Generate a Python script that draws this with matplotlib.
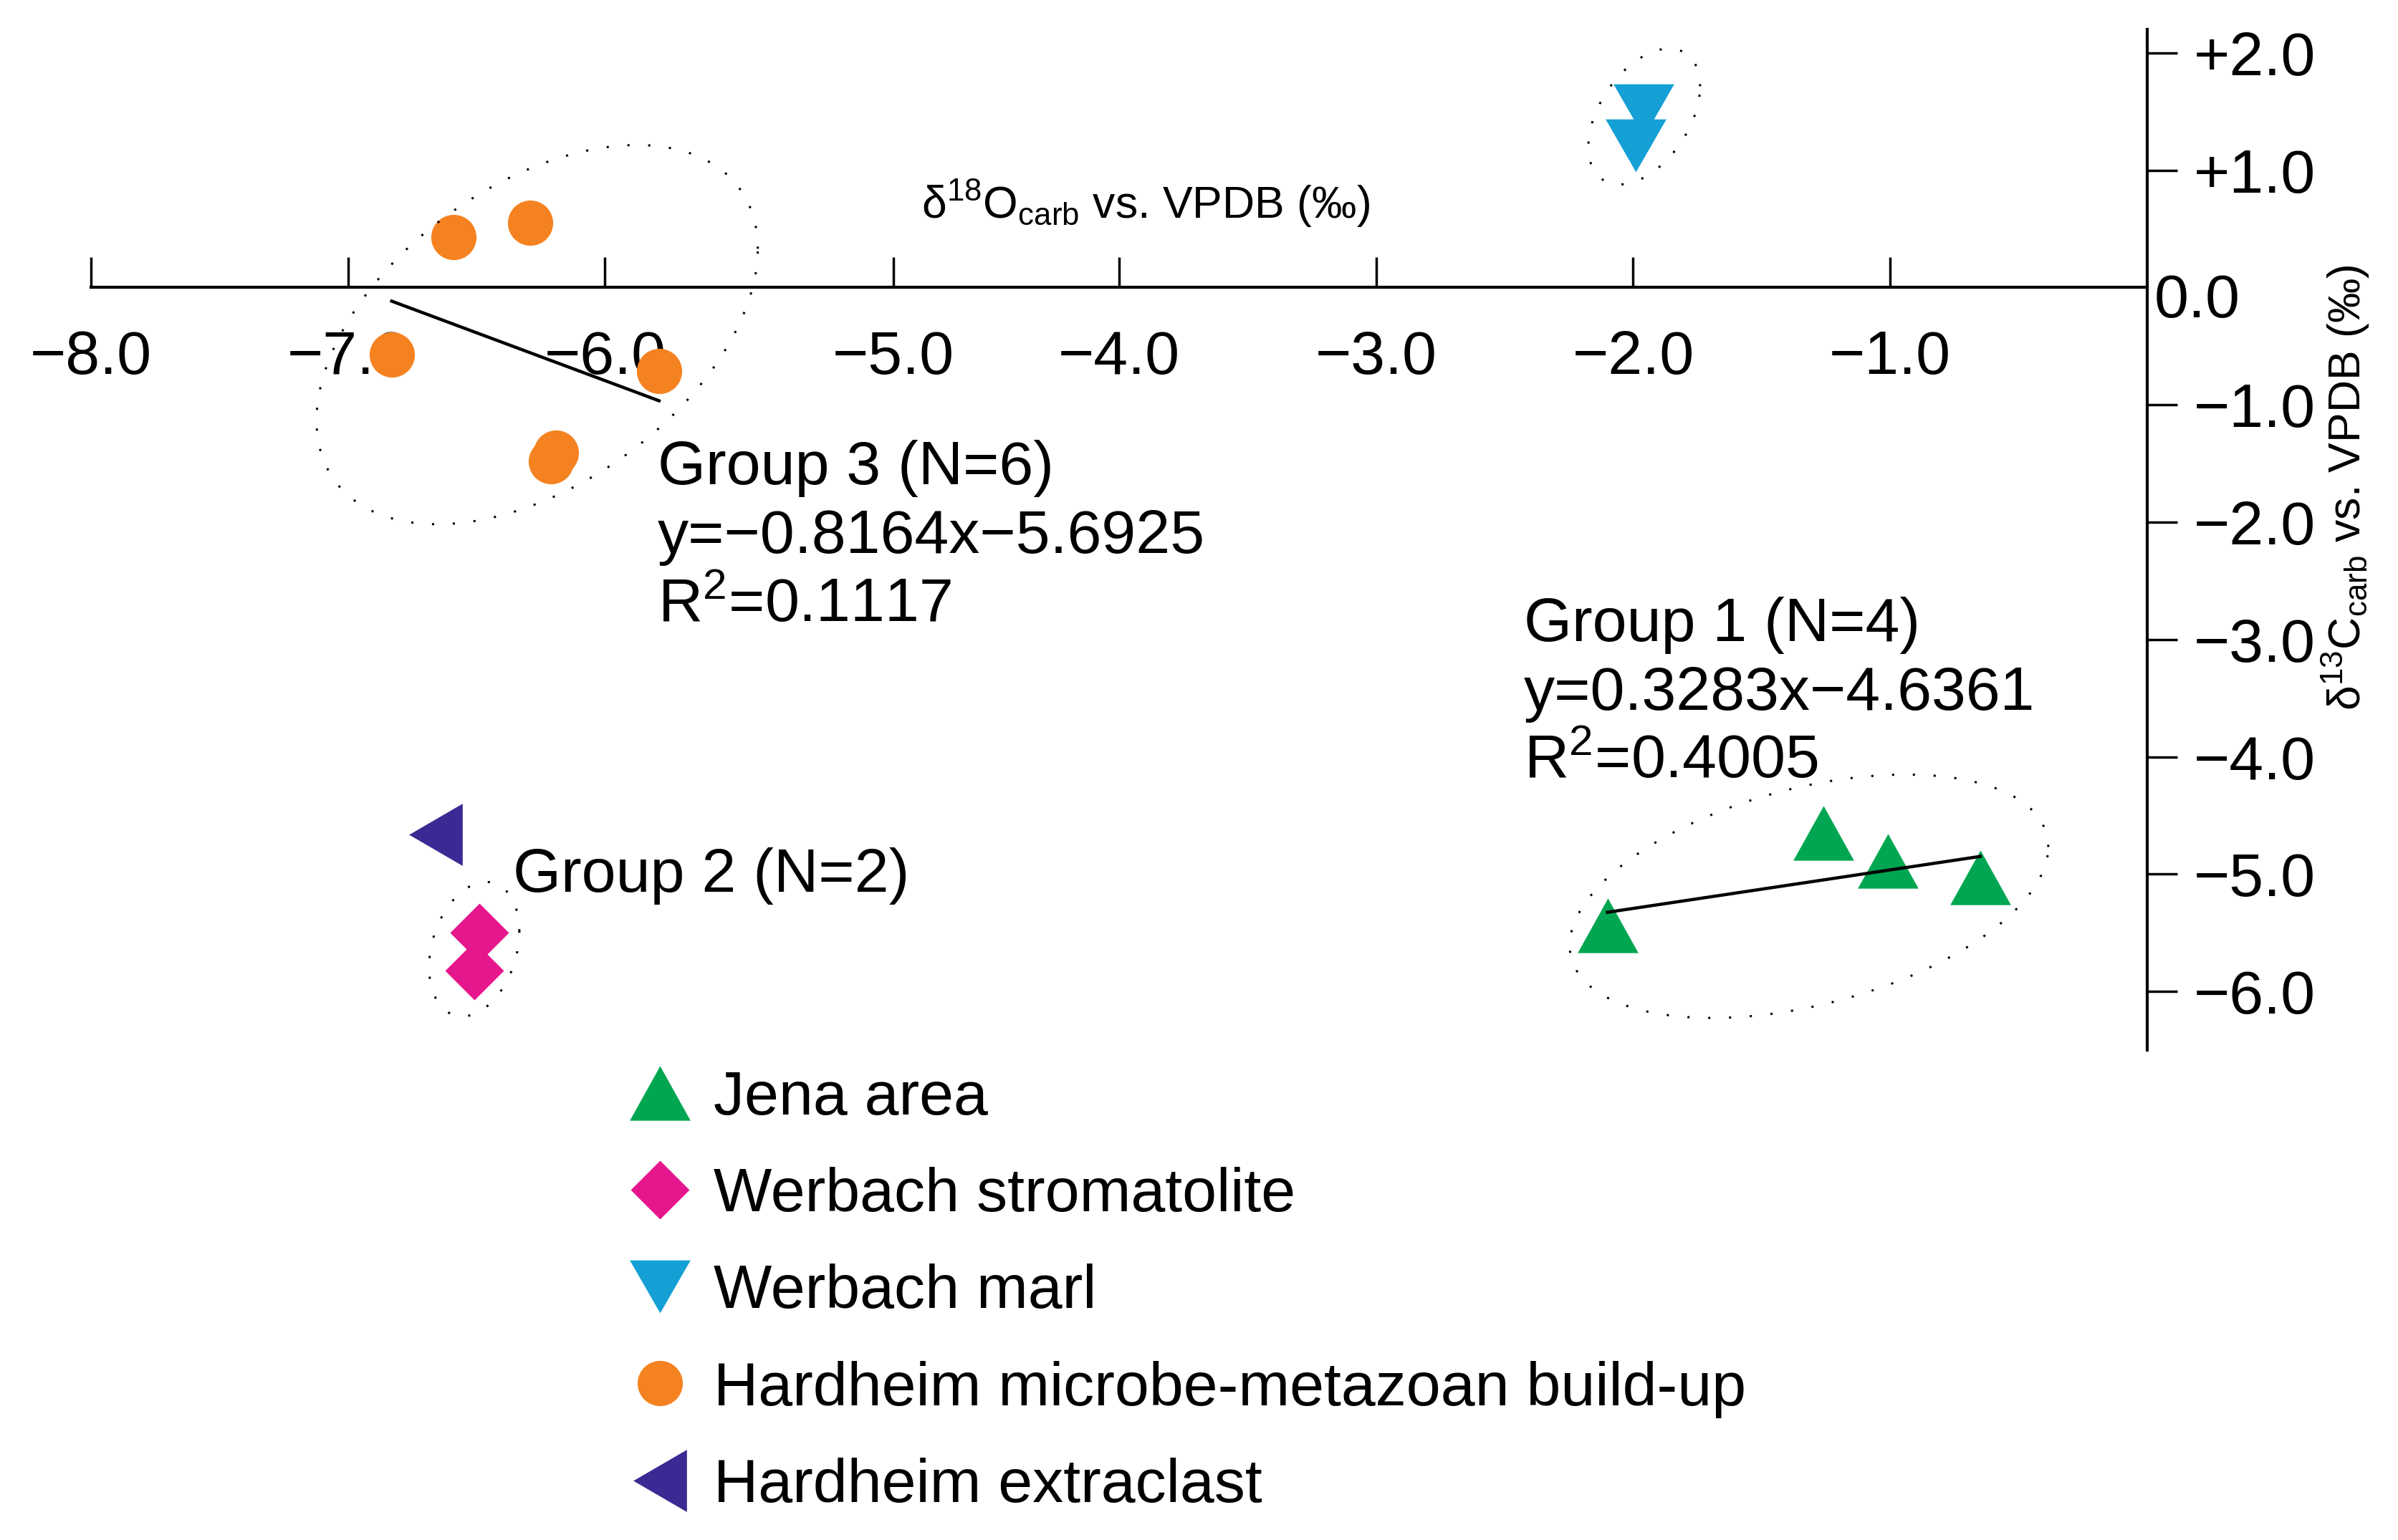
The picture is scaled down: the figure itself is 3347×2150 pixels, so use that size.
import numpy as np
import matplotlib.pyplot as plt

plt.rcParams['font.family'] = ['Liberation Sans', 'DejaVu Sans']
plt.rcParams['mathtext.fontset'] = 'custom'
plt.rcParams['mathtext.rm'] = 'Liberation Sans'
plt.rcParams['mathtext.it'] = 'Liberation Sans:italic'
plt.rcParams['mathtext.bf'] = 'Liberation Sans:bold'

# d18O (x) and d13C (y), per mille vs. VPDB
jena_o = [-2.10, -1.26, -1.01, -0.65]
jena_c = [-5.44, -4.65, -4.89, -5.03]
stromatolite_o = [-6.49, -6.51]
stromatolite_c = [-5.50, -5.82]
marl_o = [-1.96, -1.99]
marl_c = [1.51, 1.21]
buildup_o = [-6.59, -6.29, -6.83, -5.79, -6.19, -6.21]
buildup_c = [0.43, 0.55, -0.57, -0.71, -1.41, -1.48]
extraclast_o = [-6.66]
extraclast_c = [-4.66]

# regressions as printed on the figure: slope, intercept, R2
group1_fit = (0.3283, -4.6361, 0.4005)
group3_fit = (-0.8164, -5.6925, 0.1117)

x_ticks = [-8, -7, -6, -5, -4, -3, -2, -1]
y_ticks = [2, 1, -1, -2, -3, -4, -5, -6]

# marker shapes
tri_up = [(0, 0.9), (-1, -0.9), (1, -0.9)]
tri_down = [(0, -0.87), (-1, 0.87), (1, 0.87)]
tri_left = [(-0.86, 0), (0.86, 1), (0.86, -1)]
diamond = [(0, 1), (1, 0), (0, -1), (-1, 0)]

FS = 62


def fmt(v):
    return ('%+.1f' % v).replace('-', '\u2212')


def dotted_ellipse(ax, cx, cy, sx, sy, rho):
    # hand drawn group outlines of the source figure
    t = np.linspace(0, 2 * np.pi, 400)
    x = cx + sx * np.cos(t)
    y = cy + sy * (rho * np.cos(t) + np.sqrt(1 - rho ** 2) * np.sin(t))
    ax.plot(x, y, color='black', lw=2.2, linestyle=(0, (1, 8.5)),
            dash_capstyle='butt', zorder=4)


fig = plt.figure(figsize=(33.47, 21.5), dpi=100)
ax = fig.add_axes([0.03794, 0.31814, 0.85749, 0.66279])
ax.set_xlim(-8, 0)
ax.set_ylim(-6.5, 2.2)

ax.spines['top'].set_visible(False)
ax.spines['left'].set_visible(False)
ax.spines['bottom'].set_position(('data', 0))
for s in ['bottom', 'right']:
    ax.spines[s].set_linewidth(3)

# series
h_jena, = ax.plot(jena_o, jena_c, ls='none', marker=tri_up, ms=61,
                  color='#00a651', mew=0, zorder=3, label='Jena area')
h_strom, = ax.plot(stromatolite_o, stromatolite_c, ls='none', marker=diamond, ms=59,
                   color='#e6168c', mew=0, zorder=3, label='Werbach stromatolite')
h_marl, = ax.plot(marl_o, marl_c, ls='none', marker=tri_down, ms=61,
                  color='#15a0d5', mew=0, zorder=3, label='Werbach marl')
h_build, = ax.plot(buildup_o, buildup_c, ls='none', marker='o', ms=45.5,
                   color='#f58220', mew=0, zorder=3,
                   label='Hardheim microbe-metazoan build-up')
h_extra, = ax.plot(extraclast_o, extraclast_c, ls='none', marker=tri_left, ms=62.5,
                   color='#3b2a93', mew=0, zorder=3, label='Hardheim extraclast')

# regression lines over the range of each group
for xs, fit in [(jena_o, group1_fit), (buildup_o, group3_fit)]:
    xr = np.array([min(xs), max(xs)])
    ax.plot(xr, fit[0] * xr + fit[1], color='black', lw=3.2, zorder=4)

# group outlines
dotted_ellipse(ax, -6.264, -0.402, 0.8585, 1.616, 0.453)
dotted_ellipse(ax, -1.316, -5.189, 0.931, 1.037, 0.405)
dotted_ellipse(ax, -6.509, -5.64, 0.1756, 0.573, 0.265)
dotted_ellipse(ax, -1.957, 1.457, 0.2174, 0.579, 0.445)


def eq(fit):
    return ('y=%.4fx%+.4f' % (fit[0], fit[1])).replace('-', '\u2212')


notes = [
    (-5.795, -1.677, ['Group 3 (N=%d)' % len(buildup_o), eq(group3_fit),
                      'R$^2$=%.4f' % group3_fit[2]]),
    (-2.425, -3.012, ['Group 1 (N=%d)' % len(jena_o), eq(group1_fit),
                      'R$^2$=%.4f' % group1_fit[2]]),
    (-6.358, -5.152, ['Group 2 (N=%d)' % len(stromatolite_o)]),
]
for nx, ny, lines in notes:
    for i, line in enumerate(lines):
        ax.annotate(line, xy=(nx, ny), xytext=(0, -69 * i), textcoords='offset points',
                    ha='left', va='baseline', fontsize=FS, zorder=5)

# x axis: ticks point up, labels below the line
# (the source draws its -5.0 tick a little to the right of its true place)
x_pos = [v if v != -5 else -4.878 for v in x_ticks]
ax.set_xticks(x_pos)
ax.set_xticklabels([fmt(v).replace('+', '') for v in x_ticks])
ax.xaxis.set_ticks_position('bottom')
ax.tick_params(axis='x', direction='in', length=30, width=2.5, pad=42, labelsize=FS)

# y axis on the right at x = 0
ax.yaxis.set_ticks_position('right')
ax.set_yticks(y_ticks)
ax.set_yticklabels([fmt(v) for v in y_ticks])
ax.tick_params(axis='y', direction='out', length=30, width=2.5, pad=139, labelsize=FS)
plt.setp(ax.yaxis.get_majorticklabels(), ha='right')
ax.annotate('0.0', xy=(0, 0), xytext=(7, -14), textcoords='offset points',
            ha='left', va='center', fontsize=FS)

ax.set_xlabel('$\\mathrm{\u03b4}^{18}\\mathrm{O}_{\\mathrm{carb}}$ vs. VPDB (\u2030)', fontsize=45)
ax.xaxis.set_label_coords(0.513, 0.829)
ax.xaxis.label.set_va('center')
ax.yaxis.set_label_position('right')
ax.set_ylabel('$\\mathrm{\u03b4}^{13}\\mathrm{C}_{\\mathrm{carb}}$ vs. VPDB (\u2030)', fontsize=45,
              rotation=90)
ax.yaxis.set_label_coords(1.0966, 0.551)
ax.yaxis.label.set_va('center')
ax.yaxis.label.set_ha('center')

fig.legend([h_jena, h_strom, h_marl, h_build, h_extra],
           [h.get_label() for h in [h_jena, h_strom, h_marl, h_build, h_extra]],
           loc='upper left', bbox_to_anchor=(0.2623, 0.305), frameon=False,
           fontsize=FS, handlelength=1.0, handletextpad=0.37, labelspacing=0.64,
           borderpad=0, borderaxespad=0)

fig.savefig('out.png', dpi=100)
